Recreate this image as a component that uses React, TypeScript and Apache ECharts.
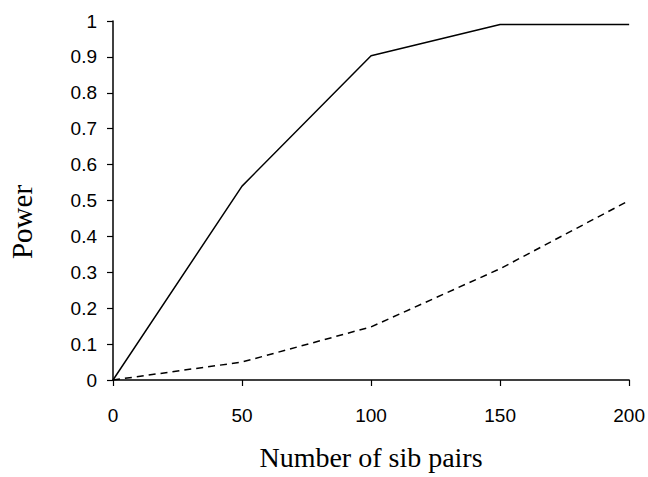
import React, { useEffect, useRef } from "react";
import * as echarts from "echarts";

const sibPairs = [0, 50, 100, 150, 200];
const powerSolid = [0, 0.54, 0.903, 0.99, 0.99];
const powerDashed = [0, 0.05, 0.148, 0.31, 0.5];
const xTitle = "Number of sib pairs";
const yTitle = "Power";

export default function App() {
  const ref = useRef<HTMLDivElement>(null);
  useEffect(() => {
    if (!ref.current) return;
    const chart = echarts.init(ref.current, undefined, { renderer: "svg" });
    const axisFont = { fontFamily: "Liberation Sans, Arial, sans-serif", fontSize: 19, color: "#000" };
    chart.setOption({
      animation: false,
      backgroundColor: "#fff",
      grid: { left: 113, right: 18, top: 21, bottom: 97 },
      xAxis: {
        type: "value",
        min: 0,
        max: 200,
        interval: 50,
        axisLine: { lineStyle: { color: "#000", width: 1.5 } },
        axisTick: { show: true, inside: false, length: 6, lineStyle: { color: "#000", width: 1.2 } },
        axisLabel: { ...axisFont, margin: 26 },
        splitLine: { show: false },
      },
      yAxis: {
        type: "value",
        min: 0,
        max: 1,
        interval: 0.1,
        axisLine: { show: true, onZero: false, lineStyle: { color: "#000", width: 1.5 } },
        axisTick: { show: true, inside: false, length: 6, lineStyle: { color: "#000", width: 1.2 } },
        axisLabel: {
          ...axisFont,
          margin: 16,
          formatter: (v: number) => (Math.round(v * 10) / 10).toString(),
        },
        splitLine: { show: false },
      },
      series: [
        {
          type: "line",
          data: sibPairs.map((x, i) => [x, powerSolid[i]]),
          showSymbol: false,
          lineStyle: { color: "#000", width: 1.5, type: "solid" },
        },
        {
          type: "line",
          data: sibPairs.map((x, i) => [x, powerDashed[i]]),
          showSymbol: false,
          lineStyle: { color: "#000", width: 1.5, type: [7, 5] },
        },
      ],
      graphic: [
        {
          type: "text",
          x: 22,
          y: 222,
          rotation: Math.PI / 2,
          style: {
            text: yTitle,
            font: "29px 'Liberation Serif', 'Times New Roman', serif",
            fill: "#000",
            align: "center",
            verticalAlign: "middle",
          },
        },
        {
          type: "text",
          x: 371,
          y: 457,
          style: {
            text: xTitle,
            font: "28px 'Liberation Serif', 'Times New Roman', serif",
            fill: "#000",
            align: "center",
            verticalAlign: "middle",
          },
        },
      ],
    });
    return () => chart.dispose();
  }, []);
  return <div ref={ref} style={{ width: 648, height: 477, position: "absolute", left: 0, top: 0 }} />;
}
